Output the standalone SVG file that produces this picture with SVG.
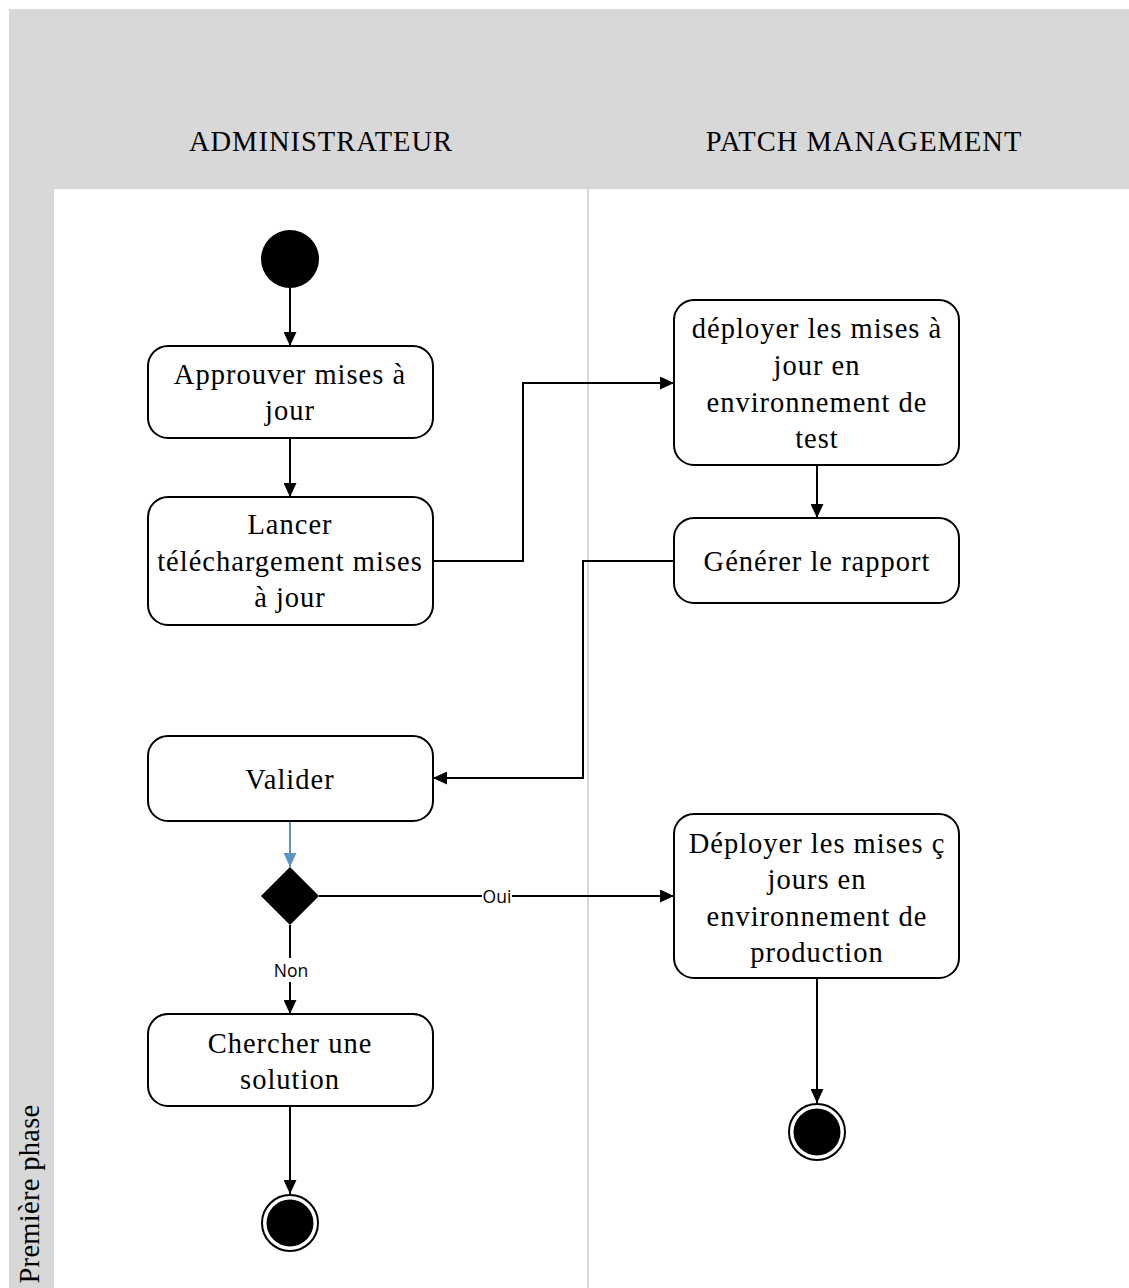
<svg xmlns="http://www.w3.org/2000/svg" width="1129" height="1288" viewBox="0 0 1129 1288">
  <style>
    .lbl { font-family: "Liberation Serif", "Times New Roman", serif; font-size: 28.5px; letter-spacing: 1px; fill: #000; text-anchor: middle; }
    .pool-lbl { letter-spacing: 0.3px; }
    .act { fill: #fff; stroke: #000; stroke-width: 2; }
    .edge { fill: none; stroke: #000; stroke-width: 2; }
    .elbl { font-family: "Open Sans", "DejaVu Sans", sans-serif; font-size: 17.5px; fill: #000; text-anchor: middle; }
  </style>
  <defs>
    <marker id="arr" viewBox="0 0 14 13" refX="14" refY="6.5" markerWidth="14" markerHeight="13" markerUnits="userSpaceOnUse" orient="auto">
      <path d="M0,0 L14,6.5 L0,13 z" fill="#000"/>
    </marker>
    <marker id="arrBlue" viewBox="0 0 14 13" refX="14" refY="6.5" markerWidth="14" markerHeight="13" markerUnits="userSpaceOnUse" orient="auto">
      <path d="M0,0 L14,6.5 L0,13 z" fill="#5b93c7"/>
    </marker>
  </defs>

  <!-- pool and lanes -->
  <g id="pool">
    <rect x="9" y="9" width="1120" height="1279" fill="#d8d8d8"/>
    <rect x="54" y="189" width="1075" height="1099" fill="#fff"/>
    <rect x="587" y="189" width="2" height="1099" fill="#d8d8d8"/>
    <text class="lbl" x="321" y="151">ADMINISTRATEUR</text>
    <text class="lbl" x="864" y="151">PATCH MANAGEMENT</text>
    <text class="lbl pool-lbl" transform="translate(39,1194) rotate(-90)">Première phase</text>
  </g>

  <!-- connectors -->
  <g id="connectors">
    <path class="edge" d="M290,288 L290,346" marker-end="url(#arr)"/>
    <path class="edge" d="M290,438 L290,497" marker-end="url(#arr)"/>
    <path class="edge" d="M433,561 L523,561 L523,383 L674,383" marker-end="url(#arr)"/>
    <path class="edge" d="M817,465 L817,518" marker-end="url(#arr)"/>
    <path class="edge" d="M674,561 L583,561 L583,778 L433,778" marker-end="url(#arr)"/>
    <path d="M290,821 L290,867" fill="none" stroke="#5b93c7" stroke-width="2" marker-end="url(#arrBlue)"/>
    <path class="edge" d="M319,896 L674,896" marker-end="url(#arr)"/>
    <path class="edge" d="M290,925 L290,1014" marker-end="url(#arr)"/>
    <path class="edge" d="M290,1106 L290,1194" marker-end="url(#arr)"/>
    <path class="edge" d="M817,978 L817,1103" marker-end="url(#arr)"/>
    <rect x="482" y="886" width="30" height="20" fill="#fff"/>
    <text class="elbl" x="497" y="903">Oui</text>
    <rect x="272" y="958" width="38" height="24" fill="#fff"/>
    <text class="elbl" x="291" y="977">Non</text>
  </g>

  <g id="start">
    <circle cx="290" cy="259" r="29" fill="#000"/>
  </g>

  <g id="approuver">
    <rect class="act" x="148" y="346" width="285" height="92" rx="20"/>
    <text class="lbl" x="290" y="384">Approuver mises à</text>
    <text class="lbl" x="290" y="420">jour</text>
  </g>

  <g id="lancer">
    <rect class="act" x="148" y="497" width="285" height="128" rx="20"/>
    <text class="lbl" x="290" y="534">Lancer</text>
    <text class="lbl" x="290" y="571">téléchargement mises</text>
    <text class="lbl" x="290" y="607">à jour</text>
  </g>

  <g id="deployer-test">
    <rect class="act" x="674" y="300" width="285" height="165" rx="20"/>
    <text class="lbl" x="817" y="338">déployer les mises à</text>
    <text class="lbl" x="817" y="375">jour en</text>
    <text class="lbl" x="817" y="412">environnement de</text>
    <text class="lbl" x="817" y="448">test</text>
  </g>

  <g id="generer">
    <rect class="act" x="674" y="518" width="285" height="85" rx="20"/>
    <text class="lbl" x="817" y="571">Générer le rapport</text>
  </g>

  <g id="valider">
    <rect class="act" x="148" y="736" width="285" height="85" rx="20"/>
    <text class="lbl" x="290" y="789">Valider</text>
  </g>

  <g id="decision">
    <path d="M290,867 L319,896 L290,925 L261,896 z" fill="#000"/>
  </g>

  <g id="deployer-prod">
    <rect class="act" x="674" y="814" width="285" height="164" rx="20"/>
    <text class="lbl" x="817" y="853">Déployer les mises ç</text>
    <text class="lbl" x="817" y="889">jours en</text>
    <text class="lbl" x="817" y="926">environnement de</text>
    <text class="lbl" x="817" y="962">production</text>
  </g>

  <g id="chercher">
    <rect class="act" x="148" y="1014" width="285" height="92" rx="20"/>
    <text class="lbl" x="290" y="1053">Chercher une</text>
    <text class="lbl" x="290" y="1089">solution</text>
  </g>

  <g id="end-left">
    <circle cx="290" cy="1223" r="28" fill="#fff" stroke="#000" stroke-width="2"/>
    <circle cx="290" cy="1223" r="23.5" fill="#000"/>
  </g>

  <g id="end-right">
    <circle cx="817" cy="1132" r="28" fill="#fff" stroke="#000" stroke-width="2"/>
    <circle cx="817" cy="1132" r="23.5" fill="#000"/>
  </g>
</svg>
